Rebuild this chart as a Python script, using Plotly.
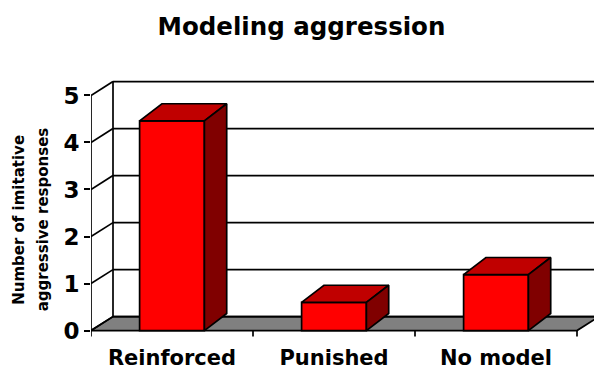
import plotly.graph_objects as go

# Data
categories = ["Reinforced", "Punished", "No model"]
responses = [4.46, 0.6, 1.19]
y_ticks = [0, 1, 2, 3, 4, 5]

# Canvas geometry (pixels)
W, H = 594, 370
LEFT, TOP, BOTTOM = 91, 60, 30
PX_PER_CAT = 162.0
PX_PER_UNIT = 47.36
ZERO_PX = 332.5


def dx(px):
    return px / PX_PER_CAT


def dy(px):
    return px / PX_PER_UNIT


def paper_x(px):
    return (px - LEFT) / (W - LEFT)


def paper_y(py):
    return (H - BOTTOM - py) / (H - TOP - BOTTOM)


# Pseudo-3D depth offsets
WALL_DX, WALL_DY = dx(22), dy(14)
BAR_DX, BAR_DY = dx(22.3), dy(17.2)
BAR_W = 0.4
X_LO, X_HI = -0.5, len(categories) - 0.5
YMAX = max(y_ticks)

x_range = [X_LO, X_LO + (W - LEFT) / PX_PER_CAT]
y_range = [-(H - BOTTOM - ZERO_PX) / PX_PER_UNIT, (ZERO_PX - TOP) / PX_PER_UNIT]

FRONT = "#FF0000"
TOPC = "#C00000"
SIDE = "#800000"
FLOOR = "#808080"
EDGE = dict(color="black", width=1.7)

FONT = "DejaVu Sans"

shapes = []
# floor
shapes.append(dict(
    type="path", xref="x", yref="y", layer="below",
    path=(f"M {X_LO},0 L {X_HI},0 L {X_HI + WALL_DX},{WALL_DY} "
          f"L {X_LO + WALL_DX},{WALL_DY} Z"),
    fillcolor=FLOOR, line=EDGE,
))
# back wall gridlines and side-wall diagonals
for v in y_ticks:
    shapes.append(dict(type="line", xref="x", yref="y", layer="below",
                       x0=X_LO + WALL_DX, x1=x_range[1],
                       y0=v + WALL_DY, y1=v + WALL_DY, line=EDGE))
    shapes.append(dict(type="line", xref="x", yref="y", layer="below",
                       x0=X_LO, x1=X_LO + WALL_DX,
                       y0=v, y1=v + WALL_DY, line=EDGE))
# back-left wall edge
shapes.append(dict(type="line", xref="x", yref="y", layer="below",
                   x0=X_LO + WALL_DX, x1=X_LO + WALL_DX,
                   y0=WALL_DY, y1=YMAX + WALL_DY, line=EDGE))
# front value axis
shapes.append(dict(type="line", xref="x", yref="y", layer="below",
                   x0=X_LO, x1=X_LO, y0=-dy(6), y1=YMAX, line=EDGE))
# category boundary ticks
for i in range(len(categories)):
    b = i + 0.5
    shapes.append(dict(type="line", xref="x", yref="y", layer="below",
                       x0=b, x1=b, y0=0, y1=-dy(6), line=EDGE))

fig = go.Figure()

# front faces of the columns
fig.add_trace(go.Bar(
    x=list(range(len(categories))), y=responses, width=BAR_W,
    marker=dict(color=FRONT, line=EDGE), hoverinfo="skip", showlegend=False,
))

# top and side faces
for i, v in enumerate(responses):
    xl, xr = i - BAR_W / 2, i + BAR_W / 2
    fig.add_trace(go.Scatter(
        x=[xl, xr, xr + BAR_DX, xl + BAR_DX, xl],
        y=[v, v, v + BAR_DY, v + BAR_DY, v],
        mode="lines", fill="toself", fillcolor=TOPC, line=EDGE,
        hoverinfo="skip", showlegend=False,
    ))
    fig.add_trace(go.Scatter(
        x=[xr, xr, xr + BAR_DX, xr + BAR_DX, xr],
        y=[0, v, v + BAR_DY, BAR_DY, 0],
        mode="lines", fill="toself", fillcolor=SIDE, line=EDGE,
        hoverinfo="skip", showlegend=False,
    ))

fig.update_layout(
    width=W, height=H,
    margin=dict(l=LEFT, r=0, t=TOP, b=BOTTOM, pad=0),
    paper_bgcolor="white", plot_bgcolor="white",
    shapes=shapes,
    title=dict(text="Modeling aggression", x=301.5 / W, xanchor="center",
               y=1 - 26 / H, yanchor="middle", yref="container",
               font=dict(family=FONT, size=24.5, color="black", weight="bold")),
    xaxis=dict(range=x_range, tickvals=list(range(len(categories))),
               ticktext=categories, ticks="", showgrid=False, zeroline=False,
               showline=False, fixedrange=True, ticklabelstandoff=5,
               tickfont=dict(family=FONT, size=21, color="black", weight="bold")),
    yaxis=dict(range=y_range, tickvals=y_ticks, ticks="outside", ticklen=6,
               tickwidth=1.7, tickcolor="black", showgrid=False,
               zeroline=False, showline=False, fixedrange=True,
               tickfont=dict(family=FONT, size=23, color="black", weight="bold")),
    annotations=[
        dict(text="Number of imitative", textangle=-90, showarrow=False,
             xref="paper", yref="paper", x=paper_x(19), y=paper_y(221),
             xanchor="center", yanchor="middle",
             font=dict(family=FONT, size=15, color="black", weight="bold")),
        dict(text="aggressive responses", textangle=-90, showarrow=False,
             xref="paper", yref="paper", x=paper_x(42.5), y=paper_y(221),
             xanchor="center", yanchor="middle",
             font=dict(family=FONT, size=15, color="black", weight="bold")),
    ],
)

fig.write_html("out.html")
